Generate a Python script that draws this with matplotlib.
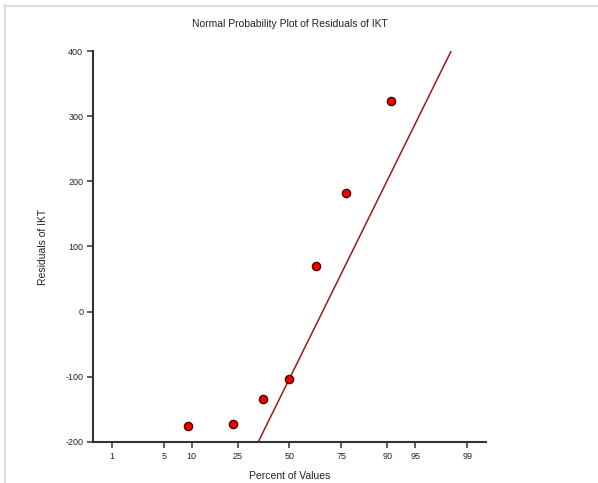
from statistics import NormalDist
import numpy as np
import matplotlib.pyplot as plt
from matplotlib.lines import Line2D

# values
percent = [9.2, 22.9, 36.5, 50.0, 63.5, 77.1, 90.8]
residuals = [-176, -172, -134, -103, 70, 182, 323]
tick_percent = [1, 5, 10, 25, 50, 75, 90, 95, 99]
line_center = -102.7   # residual of the fitted line at 50 %
line_slope = 237.8     # change per standard normal unit

nd = NormalDist()
z = np.array([nd.inv_cdf(p / 100) for p in percent])
tick_z = [nd.inv_cdf(p / 100) for p in tick_percent]

plt.rcParams['font.family'] = ['Liberation Sans', 'DejaVu Sans']
plt.rcParams['axes.unicode_minus'] = False

fig = plt.figure(figsize=(5.98, 4.83), dpi=100)
ax = fig.add_axes([0.1555, 0.0849, 0.8127 - 0.1555, 0.8944 - 0.0849])

# fitted reference line
zl = np.array([-2.6, 2.6])
ax.plot(zl, line_center + line_slope * zl, color='#a01818', lw=1.1, zorder=2)

ax.plot(z, residuals, 'o', ms=6, mfc='#ee0000', mec='#3a0000', mew=0.9, zorder=3)

ax.set_xlim(-2.57, 2.57)
ax.set_ylim(-200, 400)
ax.set_xticks(tick_z)
ax.set_xticklabels([str(p) for p in tick_percent])
ax.set_yticks(range(-200, 401, 100))

for s in ['top', 'right']:
    ax.spines[s].set_visible(False)
for s in ['left', 'bottom']:
    ax.spines[s].set_linewidth(1.5)
    ax.spines[s].set_color('#333333')
ax.tick_params(length=4, width=1.1, color='#333333', labelsize=6.5,
               labelcolor='#222233', pad=3)

ax.set_title('Normal Probability Plot of Residuals of IKT', fontsize=7.5,
             color='#222222', pad=17)
ax.set_xlabel('Percent of Values', fontsize=7.5, color='#222222')
ax.set_ylabel('Residuals of IKT', fontsize=7.5, color='#222222')
ax.xaxis.set_label_coords(0.5, -0.075)
ax.yaxis.set_label_coords(-0.115, 0.5)

# light gray panel border at top and left
fig.add_artist(Line2D([4 / 598, 1], [1 - 6 / 483, 1 - 6 / 483],
                      color='#dddddd', lw=1.6, transform=fig.transFigure))
fig.add_artist(Line2D([5 / 598, 5 / 598], [0, 1 - 6 / 483],
                      color='#dddddd', lw=1.6, transform=fig.transFigure))

fig.savefig('out.png', dpi=100)
